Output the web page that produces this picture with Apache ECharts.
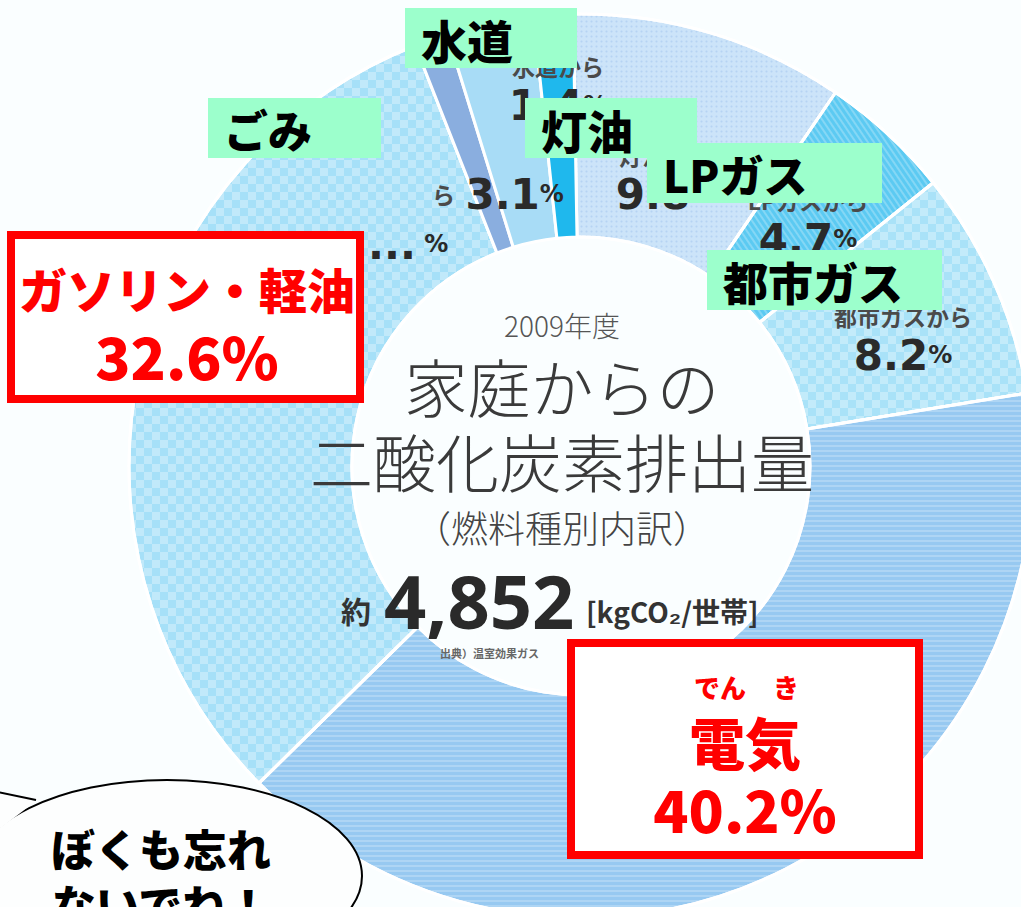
<!DOCTYPE html>
<html>
<head>
<meta charset="utf-8">
<script src="https://cdn.jsdelivr.net/npm/echarts@6/dist/echarts.min.js"></script>
<style>
html, body { margin: 0; padding: 0; background: #fafeff; }
#main { width: 1021px; height: 907px; }
</style>
</head>
<body>
<div id="main"></div>
<script>
// 燃料種別（12時の位置から時計回り）
var fuelNames = ["灯油", "LPガス", "都市ガス", "電気", "ガソリン", "軽油", "ごみ", "水道"];
var fuelShares = [9.8, 4.7, 8.2, 40.2, 31.4, 1.2, 3.1, 1.4];
var fiscalYear = "2009年度";
var totalEmission = "4,852";
var emissionUnit = "[kgCO₂/世帯]";
// 吹き出しラベル
var noteNames = ["水道", "ごみ", "灯油", "LPガス", "都市ガス"];

var JP = "'Noto Sans CJK JP', sans-serif";
var NUM = "'DejaVu Sans', sans-serif";

var sliceColors = ["#cce4f9", "#5ccaf2", "#a9e2f8", "#97c9f1", "#a6e0f8", "#8aaedf", "#a8dcf6", "#1fb8ed"];

var checker = {
  symbol: "rect", symbolSize: 1, color: "rgba(255,255,255,0.3)",
  dashArrayX: [[8, 8], [0, 8, 8, 0]], dashArrayY: [8, 0]
};
var hstripe = {
  symbol: "rect", symbolSize: 1, color: "rgba(255,255,255,0.22)",
  dashArrayX: [1, 0], dashArrayY: [2, 3]
};
var dots = {
  symbol: "circle", symbolSize: 0.7, color: "rgba(140,180,230,0.35)",
  dashArrayX: [3, 2], dashArrayY: [3, 2]
};
var vstripe = {
  symbol: "rect", symbolSize: 1, color: "rgba(255,255,255,0.25)",
  dashArrayX: [2, 3], dashArrayY: [1, 0], rotation: -0.6
};
var sliceDecals = [dots, vstripe, checker, hstripe, checker, null, null, null];

var pct = function (i) { return fuelShares[i].toFixed(1); };
var gasDiesel = (fuelShares[4] + fuelShares[5]).toFixed(1);

var chart = echarts.init(document.getElementById("main"), null, { renderer: "svg" });

var labelRich = {
  s: { fontSize: 23, fontFamily: JP, fontWeight: "bold", fill: "#4a4a4a", color: "#4a4a4a", lineHeight: 34 },
  n: { fontSize: 42, fontFamily: NUM, fontWeight: "bold", fill: "#2a2a2a", color: "#2a2a2a", lineHeight: 44 },
  p: { fontSize: 24, fontFamily: NUM, fontWeight: "bold", fill: "#2a2a2a", color: "#2a2a2a", lineHeight: 44 }
};

function txt(x, y, text, size, opts) {
  opts = opts || {};
  return {
    type: "text", x: x, y: y, z: opts.z || 60, silent: true,
    style: {
      text: text, fontSize: size, fontFamily: opts.family || JP,
      fontWeight: opts.weight || "normal", fill: opts.color || "#333",
      align: opts.align || "center", verticalAlign: "middle",
      textAlign: opts.align || "center", textVerticalAlign: "middle",
      lineHeight: opts.lineHeight, rich: opts.rich
    }
  };
}

function noteBox(x, y, w, h, text, size) {
  return [
    { type: "rect", z: 100, silent: true, shape: { x: x, y: y, width: w, height: h }, style: { fill: "#9cffcc" } },
    txt(x + 16, y + h / 2 + 1, text, size, { align: "left", weight: 900, color: "#000", z: 101 })
  ];
}

function redBox(x, y, w, h) {
  return { type: "rect", z: 100, silent: true, shape: { x: x, y: y, width: w, height: h },
    style: { fill: "#ffffff", stroke: "#ff0000", lineWidth: 8 } };
}

var red = { weight: 900, color: "#ff0000", z: 101 };

var elements = [
  // 中央の見出し
  txt(562, 325, fiscalYear, 28, { weight: 300, color: "#555" }),
  txt(562, 384, "家庭からの", 63, { weight: 300, color: "#3a3a3a" }),
  txt(562, 459, "二酸化炭素排出量", 63, { weight: 300, color: "#3a3a3a" }),
  txt(562, 527, "（燃料種別内訳）", 37, { weight: 300, color: "#444" }),
  txt(356, 610, "約", 30, { weight: "bold", color: "#333" }),
  txt(384, 600, totalEmission, 74, { family: "'Noto Sans', sans-serif", weight: "bold", color: "#2a2a2a", align: "left", lineHeight: 60 }),
  txt(586, 611, emissionUnit, 28, { weight: "bold", color: "#333", align: "left" }),
  txt(440, 653, "出典）温室効果ガス", 11, { weight: "bold", color: "#666", align: "left" }),

  // 扇形ラベル
  txt(903, 338, "{s|" + fuelNames[2] + "から}\n{n|" + pct(2) + "}{p|%}", 23, { rich: labelRich }),
  txt(808, 222, "{s|" + fuelNames[1] + "から}\n{n|" + pct(1) + "}{p|%}", 23, { rich: labelRich }),
  txt(665, 177, "{s|" + fuelNames[0] + "から}\n{n|" + pct(0) + "}{p|%}", 23, { rich: labelRich }),
  txt(558, 88, "{s|" + fuelNames[7] + "から}\n{n|" + pct(7) + "}{p|%}", 23, { rich: labelRich }),
  txt(432, 194, "{s|ら  }{n|" + pct(6) + "}{p|%}", 23, { rich: labelRich, align: "left" }),
  txt(368, 244, "{n|...}{p| %}", 23, { rich: labelRich, align: "left" })
];

elements = elements
  .concat(noteBox(405, 8, 172, 60, noteNames[0], 46))
  .concat(noteBox(208, 98, 173, 60, noteNames[1], 44))
  .concat(noteBox(525, 98, 172, 60, noteNames[2], 46))
  .concat(noteBox(647, 143, 235, 60, noteNames[3], 44))
  .concat(noteBox(707, 250, 235, 60, noteNames[4], 45));

elements.push(
  redBox(11, 235, 349, 164),
  txt(187, 288, fuelNames[4] + "・" + fuelNames[5], 48, red),
  txt(187, 355, gasDiesel + "%", 58, red),
  redBox(571, 643, 348, 212),
  txt(720, 686, "でん", 26, red),
  txt(786, 686, "き", 26, red),
  txt(745, 740, fuelNames[3], 56, red),
  txt(745, 808, pct(3) + "%", 58, red)
);

// 吹き出し
elements.push(
  { type: "ellipse", z: 110, silent: true, shape: { cx: 167, cy: 876, rx: 195, ry: 96 },
    style: { fill: "#fdfefe", stroke: "#000", lineWidth: 2 } },
  { type: "polygon", z: 111, silent: true, shape: { points: [[-2, 793], [36, 801], [-2, 830]] },
    style: { fill: "#fdfefe" } },
  { type: "polyline", z: 112, silent: true, shape: { points: [[-2, 792], [36, 800]] },
    style: { stroke: "#000", lineWidth: 2, fill: null } },
  txt(161, 848, "ぼくも忘れ", 44, { weight: 900, color: "#000", z: 113 }),
  txt(161, 904, "ないでね！", 44, { weight: 900, color: "#000", z: 113 })
);

var option = {
  backgroundColor: "#fafeff",
  animation: false,
  series: [
    {
      type: "pie",
      silent: true,
      center: [581, 466],
      radius: [229, 452],
      startAngle: 91,
      clockwise: true,
      label: { show: false },
      labelLine: { show: false },
      itemStyle: { borderColor: "#ffffff", borderWidth: 3 },
      data: fuelNames.map(function (n, i) {
        var st = { color: sliceColors[i] };
        if (sliceDecals[i]) st.decal = sliceDecals[i];
        return { name: n, value: fuelShares[i], itemStyle: st };
      })
    }
  ],
  graphic: { elements: elements }
};

chart.setOption(option);
</script>
</body>
</html>
